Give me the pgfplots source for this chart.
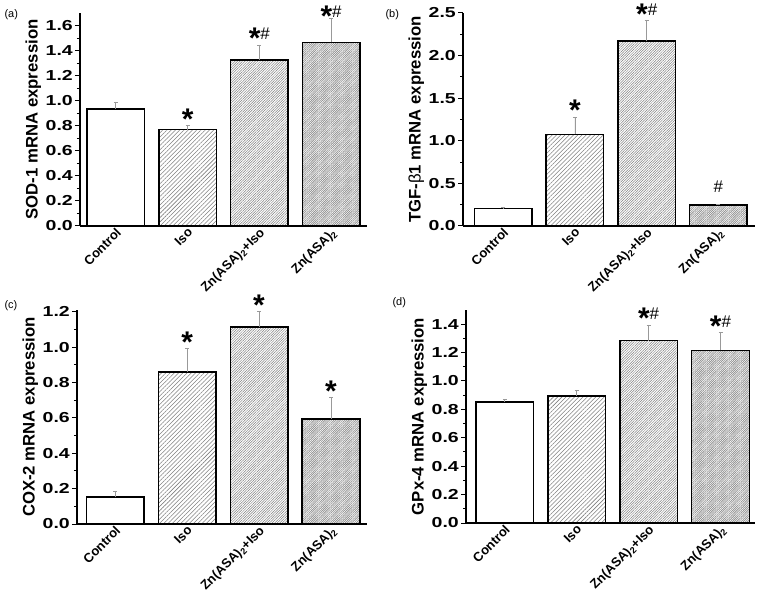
\documentclass[border=0pt]{standalone}
\usepackage{pgfplots}
\pgfplotsset{compat=1.18}
\usepackage{fontspec}
\setmainfont{Liberation Sans}
\usetikzlibrary{patterns.meta}
\newcommand{\st}{\raisebox{-9bp}{\fontsize{30}{30}\selectfont\bfseries *}}
\newcommand{\hs}{{\fontsize{17}{17}\selectfont\mdseries \#}}
\pgfplotsset{
 myax/.style={
  scale only axis,
  axis x line*=bottom, axis y line*=left,
  axis line style={line width=1.6bp},
  xmin=-0.5, xmax=3.5, ymin=0,
  xtick={0,1,2,3},
  xticklabels={Control, Iso, Zn(ASA)\textsubscript{2}+Iso, Zn(ASA)\textsubscript{2}},
  x tick style={draw=none},
  x tick label style={rotate=45, anchor=north east, font=\fontsize{13}{13}\selectfont\bfseries, inner sep=0.5bp, xshift=3bp, yshift=4bp},
  y tick label style={font=\fontsize{14.5}{14.5}\selectfont\bfseries, inner sep=2bp},
  yticklabel={\scalebox{1.35}[1]{\pgfmathprintnumber[fixed,fixed zerofill,precision=1]{\tick}}},
  y tick style={line width=1bp, black},
  tick align=outside,
  major tick length=5bp, minor tick length=3bp,
  minor y tick num=1,
  ylabel style={font=\fontsize{16.8}{16.8}\selectfont\bfseries, yshift=-1bp},
  clip=false,
  /pgf/number format/assume math mode=true,
  anchor=south west,
 },
 barbase/.style={ybar, bar width=0.8, draw=black, line width=1.5bp,
   error bars/.cd, y dir=plus, y explicit,
   error bar style={black!40, line width=0.8bp},
   error mark options={rotate=90, mark size=2bp, black!40, line width=0.8bp}},
 p0/.style={fill=white, barbase},
 p1/.style={pattern={Lines[angle=45,distance=3bp,line width=0.55bp]}, pattern color=black!50, barbase},
 p2/.style={pattern={Lines[angle=45,distance=1.8bp,line width=0.5bp]}, pattern color=black!50, barbase},
 p3/.style={pattern={Lines[angle=45,distance=1.3bp,line width=0.5bp]}, pattern color=black!50, barbase},
 lab/.style={draw=none, mark=none, nodes near coords, point meta=explicit symbolic,
   nodes near coords style={anchor=base, inner sep=0pt, yshift=5bp, font=\normalsize}},
}
\begin{document}
\begin{tikzpicture}
\useasboundingbox (0,0) rectangle (760bp,594bp);
% (a)
\begin{axis}[myax, at={(80bp,368bp)}, width=287bp, height=213bp,
  ymax=1.7, ytick={0,0.2,...,1.6}, ylabel={SOD-1 mRNA expression}]
\addplot[p0] coordinates {(0,0.935) +- (0,0.055)};
\addplot[p1] coordinates {(1,0.77) +- (0,0.035)};
\addplot[p2] coordinates {(2,1.325) +- (0,0.12)};
\addplot[p3] coordinates {(3,1.465) +- (0,0.195)};
\addplot[lab] coordinates {(1,0.805)[\st] (2,1.445)[\st\hs] (3,1.625)[\st\hs]};
\end{axis}
% (b)
\begin{axis}[myax, at={(463bp,368bp)}, width=292bp, height=213bp,
  xmin=-0.56, xmax=3.51,
  ymax=2.5, ytick={0,0.5,...,2.5}, ylabel={TGF-{\mdseries β}1 mRNA expression}]
\addplot[p0] coordinates {(0,0.205) +- (0,0.008)};
\addplot[p1] coordinates {(1,1.075) +- (0,0.205)};
\addplot[p2] coordinates {(2,2.17) +- (0,0.24)};
\addplot[p3] coordinates {(3,0.245) +- (0,0.01)};
\addplot[lab] coordinates {(1,1.28)[\st] (2,2.41)[\st\hs] (3,0.33)[\hs]};
\end{axis}
% (c)
\begin{axis}[myax, at={(77bp,70bp)}, width=290bp, height=214bp,
  xmin=-0.53, xmax=3.5,
  ymax=1.21, ytick={0,0.2,...,1.2}, ylabel={COX-2 mRNA expression}]
\addplot[p0] coordinates {(0,0.152) +- (0,0.035)};
\addplot[p1] coordinates {(1,0.86) +- (0,0.135)};
\addplot[p2] coordinates {(2,1.113) +- (0,0.09)};
\addplot[p3] coordinates {(3,0.594) +- (0,0.12)};
\addplot[lab] coordinates {(1,0.995)[\st] (2,1.203)[\st] (3,0.714)[\st]};
\end{axis}
% (d)
\begin{axis}[myax, at={(466bp,71bp)}, width=289bp, height=213bp,
  xmin=-0.54, xmax=3.48,
  ymax=1.5, ytick={0,0.2,...,1.4}, ylabel={GPx-4 mRNA expression}]
\addplot[p0] coordinates {(0,0.853) +- (0,0.02)};
\addplot[p1] coordinates {(1,0.893) +- (0,0.04)};
\addplot[p2] coordinates {(2,1.285) +- (0,0.11)};
\addplot[p3] coordinates {(3,1.215) +- (0,0.13)};
\addplot[lab] coordinates {(2,1.395)[\st\hs] (3,1.345)[\st\hs]};
\end{axis}
\node[font=\fontsize{11}{11}\selectfont, anchor=west] at (1bp,579bp) {(a)};
\node[font=\fontsize{11}{11}\selectfont, anchor=west] at (382bp,579bp) {(b)};
\node[font=\fontsize{11}{11}\selectfont, anchor=west] at (1bp,288bp) {(c)};
\node[font=\fontsize{11}{11}\selectfont, anchor=west] at (389bp,291bp) {(d)};
\end{tikzpicture}
\end{document}
